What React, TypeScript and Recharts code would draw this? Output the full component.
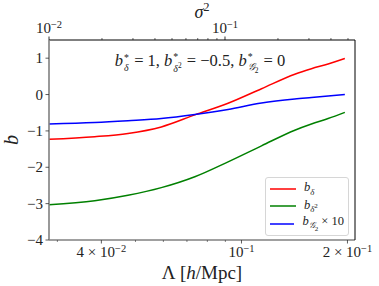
import React from 'react'
import { LineChart, Line, XAxis, YAxis, Legend } from 'recharts'

// values
const lambdaValues = [0.0284, 0.0383, 0.0476, 0.0592, 0.0737, 0.0916, 0.114, 0.1417, 0.158, 0.1762, 0.1966]
const bDelta = [-1.23, -1.16, -1.07, -0.89, -0.56, -0.24, 0.16, 0.56, 0.71, 0.84, 0.99]
const bDelta2 = [-3.03, -2.92, -2.77, -2.56, -2.26, -1.85, -1.41, -0.98, -0.81, -0.66, -0.49]
const bG2x10 = [-0.81, -0.77, -0.72, -0.66, -0.55, -0.41, -0.23, -0.12, -0.08, -0.04, 0.0]

const lambdaTicks = [0.03, 0.04, 0.05, 0.06, 0.07, 0.08, 0.09, 0.1, 0.2]
const lambdaMajor = [0.04, 0.1, 0.2]
const sigmaRange = [0.01, 0.548]
const sigmaTicks = [0.01, 0.02, 0.03, 0.04, 0.05, 0.06, 0.07, 0.08, 0.09, 0.1, 0.2, 0.3, 0.4, 0.5]
const sigmaMajor = [0.01, 0.1]
const bTicks = [-4, -3, -2, -1, 0, 1]

const data = lambdaValues.map((lambda, i) => ({
  lambda,
  bDelta: bDelta[i],
  bDelta2: bDelta2[i],
  bG2x10: bG2x10[i],
}))
// carries the top axis extent only, draws nothing
const sigmaData = sigmaRange.map((sigma2) => ({ sigma2, none: null }))

const FONT = '"Liberation Serif", "DejaVu Serif", serif'
const TEXT = '#222'

const isMajor = (list: number[], v: number) => list.some((m) => Math.abs(m - v) < 1e-9)

function SciLabel({ x, y, v }: { x: number; y: number; v: number }) {
  const exp = Math.floor(Math.log10(v) + 1e-9)
  const m = Math.round(v / Math.pow(10, exp))
  return (
    <text x={x} y={y} textAnchor="middle" fontSize={15} fill={TEXT} style={{ fontFamily: FONT }}>
      {m !== 1 ? `${m} × ` : ''}10
      <tspan dy={-5} fontSize={10.5}>{`−${Math.abs(exp)}`}</tspan>
    </text>
  )
}

const BottomTick = (props: any) => {
  const { x, y, payload } = props
  const major = isMajor(lambdaMajor, payload.value)
  return (
    <g>
      <line x1={x} x2={x} y1={y} y2={y + (major ? 3.5 : 2)} stroke="#333" strokeWidth={major ? 0.8 : 0.6} />
      {major && <SciLabel x={x} y={y + 17} v={payload.value} />}
    </g>
  )
}

const TopTick = (props: any) => {
  const { x, y, payload } = props
  const major = isMajor(sigmaMajor, payload.value)
  return (
    <g>
      <line x1={x} x2={x} y1={y} y2={y - (major ? 3.5 : 2)} stroke="#000" strokeWidth={major ? 0.8 : 0.6} />
      {major && <SciLabel x={x} y={y - 7} v={payload.value} />}
    </g>
  )
}

const LeftTick = (props: any) => {
  const { x, y, payload } = props
  const v = payload.value as number
  return (
    <g>
      <line x1={x - 3.5} x2={x} y1={y} y2={y} stroke="#333" strokeWidth={0.8} />
      <text x={x - 6} y={y + 5} textAnchor="end" fontSize={15} fill={TEXT} style={{ fontFamily: FONT }}>
        {v < 0 ? `−${Math.abs(v)}` : `${v}`}
      </text>
    </g>
  )
}

function SupSub({ sup, sub }: { sup: React.ReactNode; sub: React.ReactNode }) {
  return (
    <span
      style={{
        display: 'inline-flex',
        flexDirection: 'column',
        verticalAlign: 'middle',
        fontSize: '0.6em',
        lineHeight: 1,
        marginLeft: 1,
        marginRight: 1,
        marginTop: 2,
      }}
    >
      <span>{sup}</span>
      <span>{sub}</span>
    </span>
  )
}

const legendLabels: Record<string, React.ReactNode> = {
  bDelta: (
    <>
      <i>b</i>
      <sub style={{ fontSize: '0.7em' }}>
        <i>δ</i>
      </sub>
    </>
  ),
  bDelta2: (
    <>
      <i>b</i>
      <sub style={{ fontSize: '0.7em' }}>
        <i>δ</i>
        <sup style={{ fontSize: '0.8em' }}>2</sup>
      </sub>
    </>
  ),
  bG2x10: (
    <>
      <i>b</i>
      <sub style={{ fontSize: '0.7em' }}>
        <i>𝒢</i>
        <sub style={{ fontSize: '0.8em' }}>2</sub>
      </sub>{' '}
      × 10
    </>
  ),
}

const LegendBox = (props: any) => {
  const payload = (props.payload || []).filter((e: any) => legendLabels[e.dataKey])
  return (
    <div
      style={{
        border: '1px solid #d6d6d6',
        borderRadius: 3,
        background: 'rgba(255,255,255,0.85)',
        padding: '2px 4px 2px 4px',
        fontFamily: FONT,
        fontSize: 12.5,
        color: TEXT,
      }}
    >
      {payload.map((entry: any) => (
        <div key={entry.dataKey} style={{ display: 'flex', alignItems: 'center', height: 17.5 }}>
          <svg width={26} height={6} style={{ marginRight: 8 }}>
            <line x1={0} x2={26} y1={3} y2={3} stroke={entry.color} strokeWidth={1.5} />
          </svg>
          <span style={{ lineHeight: 1, whiteSpace: 'nowrap' }}>{legendLabels[entry.dataKey]}</span>
        </div>
      ))}
    </div>
  )
}

const place = (cx: number, cy: number): React.CSSProperties => ({
  position: 'absolute',
  left: cx,
  top: cy,
  transform: 'translate(-50%, -50%)',
  whiteSpace: 'nowrap',
  lineHeight: 1,
  fontFamily: FONT,
  color: TEXT,
})

export default function App() {
  return (
    <div style={{ position: 'absolute', left: 0, top: 0, width: 379, height: 286, background: '#fff' }}>
      <LineChart width={379} height={286} data={data} margin={{ top: 39, right: 23, bottom: 45, left: 48 }}>
        <XAxis
          dataKey="lambda"
          type="number"
          scale="log"
          domain={[0.0284, 0.2101]}
          allowDataOverflow
          ticks={lambdaTicks}
          interval={0}
          height={1}
          tickSize={0}
          tickMargin={0}
          tickLine={false}
          tick={<BottomTick />}
          axisLine={{ stroke: '#808080', strokeWidth: 1.6 }}
        />
        <XAxis
          xAxisId="top"
          dataKey="sigma2"
          orientation="top"
          type="number"
          scale="log"
          domain={sigmaRange}
          allowDataOverflow
          ticks={sigmaTicks}
          interval={0}
          height={1}
          tickSize={0}
          tickMargin={0}
          tickLine={false}
          tick={<TopTick />}
          axisLine={{ stroke: '#000', strokeWidth: 1 }}
        />
        <YAxis
          type="number"
          domain={[-4, 1.5]}
          allowDataOverflow
          ticks={bTicks}
          interval={0}
          width={1}
          tickSize={0}
          tickMargin={0}
          tickLine={false}
          tick={<LeftTick />}
          axisLine={{ stroke: '#808080', strokeWidth: 1.6 }}
        />
        <YAxis
          yAxisId="right"
          orientation="right"
          type="number"
          domain={[-4, 1.5]}
          allowDataOverflow
          width={1}
          tick={false}
          tickLine={false}
          axisLine={{ stroke: '#000', strokeWidth: 1 }}
        />
        <Legend
          layout="vertical"
          align="center"
          verticalAlign="middle"
          wrapperStyle={{ left: 265, top: 177, width: 84 }}
          content={<LegendBox />}
        />
        <Line type="monotone" dataKey="bDelta" stroke="#ff0000" strokeWidth={1.5} dot={false} isAnimationActive={false} />
        <Line type="monotone" dataKey="bDelta2" stroke="#008000" strokeWidth={1.5} dot={false} isAnimationActive={false} />
        <Line type="monotone" dataKey="bG2x10" stroke="#0000ff" strokeWidth={1.5} dot={false} isAnimationActive={false} />
        <Line
          data={sigmaData}
          xAxisId="top"
          yAxisId="right"
          dataKey="none"
          stroke="none"
          dot={false}
          activeDot={false}
          legendType="none"
          isAnimationActive={false}
        />
      </LineChart>

      <div style={{ ...place(202, 12), fontSize: 18 }}>
        <i>σ</i>
        <sup style={{ fontSize: '0.7em', lineHeight: 0 }}>2</sup>
      </div>
      <div style={{ ...place(202, 272), fontSize: 19 }}>
        Λ [<i>h</i>/Mpc]
      </div>
      <div style={{ ...place(11, 140), fontSize: 20, transform: 'translate(-50%, -50%) rotate(-90deg)' }}>
        <i>b</i>
      </div>
      <div style={{ ...place(200, 62), fontSize: 16.5 }}>
        <i>b</i>
        <SupSub sup="*" sub={<i>δ</i>} /> = 1, <i>b</i>
        <SupSub
          sup="*"
          sub={
            <span>
              <i>δ</i>
              <sup style={{ fontSize: '0.75em' }}>2</sup>
            </span>
          }
        />{' '}
        = −0.5, <i>b</i>
        <SupSub
          sup="*"
          sub={
            <span>
              <i>𝒢</i>
              <sub style={{ fontSize: '0.75em' }}>2</sub>
            </span>
          }
        />{' '}
        = 0
      </div>
    </div>
  )
}
